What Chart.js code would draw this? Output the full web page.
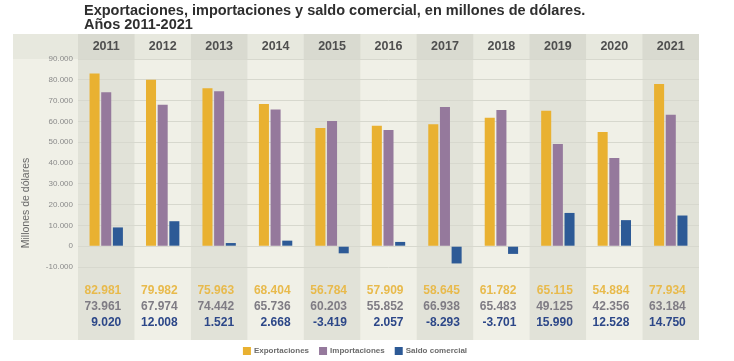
<!DOCTYPE html>
<html lang="es">
<head>
<meta charset="utf-8">
<title>Exportaciones, importaciones y saldo comercial</title>
<script src="https://cdn.jsdelivr.net/npm/chart.js@4.4.1/dist/chart.umd.min.js"></script>
<style>
  html, body { margin: 0; padding: 0; background: #fff; }
  #wrap { width: 734px; height: 361px; }
</style>
</head>
<body>
<div id="wrap"><canvas id="grafico" width="734" height="361"></canvas></div>
<script>
// datos (millones de dólares)
const anios = ['2011', '2012', '2013', '2014', '2015', '2016', '2017', '2018', '2019', '2020', '2021'];
const exportaciones = [82981, 79982, 75963, 68404, 56784, 57909, 58645, 61782, 65115, 54884, 77934];
const importaciones = [73961, 67974, 74442, 65736, 60203, 55852, 66938, 65483, 49125, 42356, 63184];
const saldoComercial = [9020, 12008, 1521, 2668, -3419, 2057, -8293, -3701, 15990, 12528, 14750];
const ticksY = [-10000, 0, 10000, 20000, 30000, 40000, 50000, 60000, 70000, 80000, 90000];

const FUENTE = '"Liberation Sans", Arial, Helvetica, sans-serif';

// número con punto de miles
function formato(n) {
    const s = Math.abs(n).toString().replace(/\B(?=(\d{3})+(?!\d))/g, '.');
    return (n < 0 ? '-' : '') + s;
}

// fondo, bandas por año, cabecera, tabla de valores, títulos y leyenda
const decorado = {
    id: 'decorado',
    beforeDraw(chart) {
        const { ctx, chartArea, scales } = chart;
        const x = scales.x;
        const panelIzq = 13;
        const panelArriba = chartArea.top - 25;
        const panelAbajo = chartArea.bottom + 73;
        const paso = x.getPixelForValue(1) - x.getPixelForValue(0);
        ctx.save();
        ctx.fillStyle = '#f0f0e7';
        ctx.fillRect(panelIzq, panelArriba, chartArea.right - panelIzq, panelAbajo - panelArriba);
        ctx.fillStyle = '#e7e8de';
        ctx.fillRect(panelIzq, panelArriba, chartArea.right - panelIzq, chartArea.top - panelArriba);
        anios.forEach((a, i) => {
            const c = x.getPixelForValue(i);
            if (i % 2 === 0) {
                ctx.fillStyle = '#e1e2d8';
                ctx.fillRect(c - paso / 2, panelArriba, paso, panelAbajo - panelArriba);
                ctx.fillStyle = '#d9dad0';
                ctx.fillRect(c - paso / 2, panelArriba, paso, chartArea.top - panelArriba);
            }
        });
        ctx.restore();
    },
    afterDraw(chart) {
        const { ctx, chartArea, scales } = chart;
        const x = scales.x;
        ctx.save();

        // título
        ctx.fillStyle = '#2f2f2f';
        ctx.font = 'bold 14.5px ' + FUENTE;
        ctx.textAlign = 'left';
        ctx.textBaseline = 'middle';
        ctx.fillText('Exportaciones, importaciones y saldo comercial, en millones de dólares.', 84, 11);
        ctx.fillText('Años 2011-2021', 84, 25);

        // título del eje y
        ctx.save();
        ctx.translate(26, chartArea.bottom - 64);
        ctx.rotate(-Math.PI / 2);
        ctx.textAlign = 'center';
        ctx.fillStyle = '#6a6a6a';
        ctx.font = '10.5px ' + FUENTE;
        ctx.fillText('Millones de dólares', 0, 0);
        ctx.restore();

        // tabla de valores
        const filas = [
            { datos: exportaciones, color: '#e8ba4c', dy: 24 },
            { datos: importaciones, color: '#7f7c84', dy: 40 },
            { datos: saldoComercial, color: '#2c4788', dy: 56 }
        ];
        ctx.textAlign = 'right';
        ctx.font = 'bold 12px ' + FUENTE;
        filas.forEach(f => {
            ctx.fillStyle = f.color;
            f.datos.forEach((v, i) => {
                ctx.fillText(formato(v), x.getPixelForValue(i) + 15, chartArea.bottom + f.dy);
            });
        });

        // leyenda
        ctx.font = 'bold 8px ' + FUENTE;
        ctx.textAlign = 'left';
        const items = chart.data.datasets.map(d => ({ texto: d.label, color: d.backgroundColor }));
        const anchos = items.map(it => 11 + ctx.measureText(it.texto).width);
        const total = anchos.reduce((a, b) => a + b, 0) + 10 * (items.length - 1);
        let px = 355 - total / 2;
        const py = chartArea.bottom + 84;
        items.forEach((it, i) => {
            ctx.fillStyle = it.color;
            ctx.fillRect(px, py - 4, 8, 8);
            ctx.fillStyle = '#6b6b6b';
            ctx.fillText(it.texto, px + 11, py);
            px += anchos[i] + 10;
        });
        ctx.restore();
    }
};

new Chart(document.getElementById('grafico').getContext('2d'), {
    type: 'bar',
    data: {
        labels: anios,
        datasets: [
            { label: 'Exportaciones', data: exportaciones, backgroundColor: '#e9b131' },
            { label: 'Importaciones', data: importaciones, backgroundColor: '#95799c' },
            { label: 'Saldo comercial', data: saldoComercial, backgroundColor: '#2d5a96' }
        ]
    },
    options: {
        responsive: false,
        animation: false,
        layout: { padding: { left: 13, right: 35, top: 34, bottom: 94 } },
        datasets: { bar: { categoryPercentage: 0.62, barPercentage: 0.86 } },
        plugins: {
            legend: { display: false },
            tooltip: { enabled: false },
            title: { display: false }
        },
        scales: {
            x: {
                position: 'top',
                grid: { display: false, drawTicks: false },
                border: { display: false },
                ticks: {
                    color: '#4f4f4f',
                    font: { family: FUENTE, size: 12.5, weight: 'bold' },
                    padding: 5,
                    maxRotation: 0
                },
                afterFit(s) { s.height = 25; }
            },
            y: {
                min: -10000,
                max: 90000,
                afterBuildTicks(s) { s.ticks = ticksY.map(v => ({ value: v })); },
                grid: { color: '#d7d8ce', lineWidth: 1, drawTicks: false },
                border: { display: false },
                ticks: {
                    color: '#8a8a8a',
                    font: { family: FUENTE, size: 8 },
                    padding: 5,
                    callback: v => formato(v)
                },
                afterFit(s) { s.width = 65; }
            }
        }
    },
    plugins: [decorado]
});
</script>
</body>
</html>
